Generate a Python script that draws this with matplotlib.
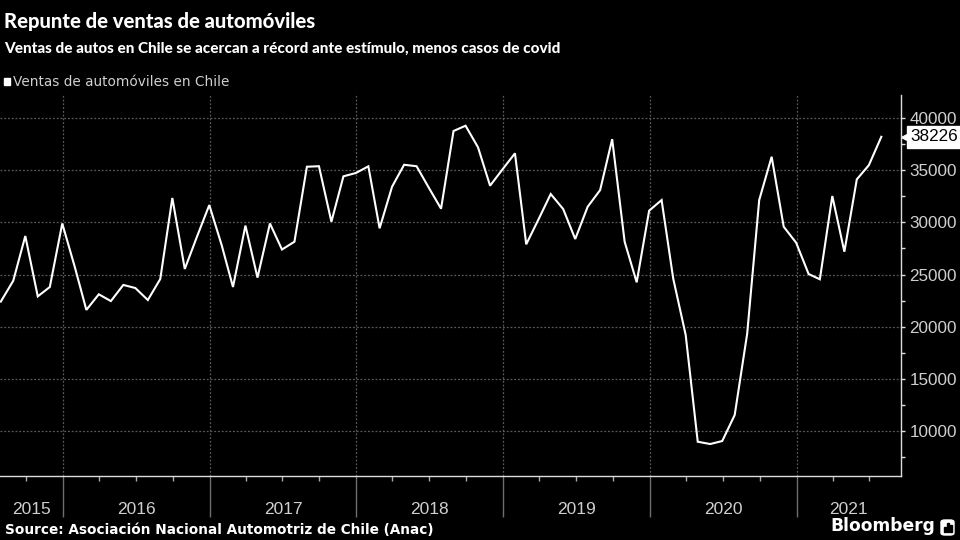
import numpy as np
import pandas as pd
import matplotlib
matplotlib.use('Agg')
import matplotlib.pyplot as plt
import matplotlib.dates as mdates
import matplotlib.transforms as mtransforms
from matplotlib.patches import FancyBboxPatch, Rectangle

# ventas mensuales de automóviles en Chile (Anac), jul 2015 - jul 2021
months = pd.date_range('2015-07-31', periods=73, freq='ME')
sales = [22400, 24400, 28700, 22900, 23800, 29900,
         25750, 21600, 23100, 22450, 24000, 23700,
         22550, 24570, 32350, 25530, 28600, 31670,
         27800, 23800, 29700, 24700, 29900, 27400,
         28150, 35350, 35400, 30070, 34430, 34750,
         35390, 29440, 33430, 35540, 35400, 33370,
         31320, 38780, 39290, 37215, 33530, 35100,
         36640, 27900, 30330, 32730, 31290, 28410,
         31510, 33110, 38000, 28150, 24250, 31130,
         32150, 24600, 19190, 8940, 8720, 9010,
         11510, 19300, 32150, 36310, 29590, 28050,
         25050, 24540, 32540, 27190, 34140, 35500,
         38226]
years = [2015, 2016, 2017, 2018, 2019, 2020, 2021]
yticks = [10000, 15000, 20000, 25000, 30000, 35000, 40000]

title = 'Repunte de ventas de automóviles'
subtitle = 'Ventas de autos en Chile se acercan a récord ante estímulo, menos casos de covid'
legend_label = 'Ventas de automóviles en Chile'
source = 'Source: Asociación Nacional Automotriz de Chile (Anac)'

head = ['Lato', 'DejaVu Sans']
plain = ['Liberation Sans', 'DejaVu Sans']
grey = '#cfcfcf'
gridc = '#5a5a5a'

W, H = 960, 540
fig = plt.figure(figsize=(9.6, 5.4), dpi=100, facecolor='black')
ax = fig.add_axes([0, 1 - 476 / H, 901 / W, (476 - 95) / H], facecolor='black')

ax.plot(months, sales, color='white', lw=1.5, solid_joinstyle='miter')

x_left = months[0] - pd.Timedelta(days=2)
x_right = pd.Timestamp('2021-09-18')
ax.set_xlim(x_left, x_right)
ax.set_ylim(5650, 42240)

# ejes
for s in ['top', 'left']:
    ax.spines[s].set_visible(False)
for s in ['bottom', 'right']:
    ax.spines[s].set_color('#dddddd')
    ax.spines[s].set_linewidth(1.0)

ax.yaxis.tick_right()
ax.set_yticks(yticks)
ax.set_yticks(np.arange(7500, 42500, 2500), minor=True)
ax.tick_params(axis='y', which='major', colors='#dddddd', labelcolor=grey,
               length=3, width=1, pad=3, labelsize=12.3)
ax.tick_params(axis='y', which='minor', colors='#dddddd', length=3, width=1)
for lab in ax.get_yticklabels():
    lab.set_family(plain)

year_starts = [pd.Timestamp(f'{y}-01-01') for y in years[1:]]
ax.set_xticks(year_starts)
ax.set_xticklabels([])
ax.xaxis.set_minor_locator(mdates.MonthLocator(bymonth=[1, 4, 7, 10]))
ax.tick_params(axis='x', which='major', colors='#6e6e6e', length=29.5, width=1)
ax.tick_params(axis='x', which='minor', colors='#aaaaaa', length=3.5, width=1)

ax.grid(axis='y', which='major', color=gridc, ls=(0, (1.5, 1.5)), lw=0.9)
ax.grid(axis='x', which='major', color=gridc, ls=(0, (1.5, 1.5)), lw=0.9)

# etiquetas de año centradas en cada tramo visible
trans = mtransforms.blended_transform_factory(ax.transData, ax.transAxes)
edges = [x_left] + year_starts + [x_right]
for i, y in enumerate(years):
    a = mdates.date2num(edges[i])
    b = mdates.date2num(edges[i + 1])
    ax.text((a + b) / 2, -38 / 381, str(y), transform=trans, ha='center',
            va='baseline', color=grey, fontsize=12.5, family=plain)

# último valor
last = sales[-1]
tl = mtransforms.blended_transform_factory(ax.transAxes, ax.transData)
ax.text(1.0 + 9 / 901, last, f'{last}', transform=tl, ha='left', va='center',
        color='black', fontsize=12.3, family=plain, clip_on=False,
        bbox=dict(boxstyle='square,pad=0.2', fc='white', ec='white'))
ax.plot([1.0 + 6 / 901], [last], marker='<', ms=8, color='white',
        transform=tl, clip_on=False)

# textos
fig.text(4 / W, 1 - 28 / H, title, color='white', fontsize=14.6,
         fontweight='black', family=head, va='baseline')
fig.text(4 / W, 1 - 53 / H, subtitle, color='white', fontsize=11,
         fontweight='black', family=head, va='baseline')
fig.patches.append(Rectangle((4 / W, 1 - 85 / H), 6 / W, 7 / H, color='white',
                             transform=fig.transFigure, figure=fig))
fig.text(13 / W, 1 - 86 / H, legend_label, color=grey, fontsize=9.8,
         family=['DejaVu Sans'], va='baseline')
fig.text(5 / W, 1 - 534 / H, source, color='white', fontsize=9.8,
         fontweight='bold', family=['DejaVu Sans'], va='baseline')
fig.text(935 / W, 1 - 531 / H, 'Bloomberg', color='white', fontsize=12.3,
         fontweight='bold', family=['DejaVu Sans'], va='baseline', ha='right')
fig.patches.append(FancyBboxPatch((941 / W, 1 - 535 / H), 13 / W, 15 / H,
                                  boxstyle='round,pad=0,rounding_size=0.004',
                                  fc='white', ec='white',
                                  transform=fig.transFigure, figure=fig))
for k, hgt in enumerate([5, 9, 7]):
    fig.patches.append(Rectangle(((944 + 3 * k) / W, 1 - 532 / H), 1.6 / W, hgt / H,
                                 color='black', transform=fig.transFigure, figure=fig))

fig.savefig('out.png', dpi=100, facecolor='black')
